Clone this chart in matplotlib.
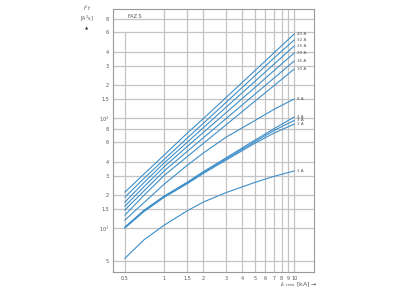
import numpy as np
import matplotlib
matplotlib.use("Agg")
import matplotlib.pyplot as plt

# prospective current [kA]
current = [0.5, 0.7, 1, 1.5, 2, 3, 5, 7, 10]

# let-through energy I2t [A2s] per rated current
curves = {
    "40 A": [21.2, 30.9, 46, 72.5, 98.6, 154, 270, 392, 580],
    "32 A": [19.1, 28.2, 42, 65.4, 89.4, 139, 243, 351, 512],
    "25 A": [17.2, 25.9, 39, 60, 81.5, 125.5, 216, 309, 452],
    "20 A": [15.8, 23.7, 36, 54.8, 73.8, 112, 190, 270, 390],
    "16 A": [14.6, 21.7, 33, 49.5, 66, 99, 165, 231, 330],
    "10 A": [13.1, 19.8, 30, 44.4, 58.7, 86.9, 142.5, 197, 279],
    "8 A": [11.8, 17, 25, 37, 48, 67, 95, 120, 149],
    "4 A": [10.2, 14.5, 19.5, 26, 32.5, 43.5, 63, 80, 102],
    "3 A": [10.1, 14.3, 19.2, 25.6, 32, 42.5, 61, 77, 95],
    "2 A": [10.0, 14.1, 19.0, 25.2, 31.3, 41.5, 59, 73, 88],
    "1 A": [5.3, 7.8, 10.6, 14.3, 17.2, 21, 26, 29.5, 33],
}

x_ticks = [0.5, 1, 1.5, 2, 3, 4, 5, 6, 7, 8, 9, 10]
x_labels = ["0.5", "1", "1.5", "2", "3", "4", "5", "6", "7", "8", "9", "10"]
y_ticks = [5, 10, 15, 20, 30, 40, 60, 80, 100, 150, 200, 300, 400, 600, 800]
y_labels = ["5", "10$^1$", "1.5", "2", "3", "4", "6", "8",
            "10$^2$", "1.5", "2", "3", "4", "6", "8"]

line_color = "#3d8ec9"
grid_color = "#c4c4c4"
text_color = "#555555"

fig = plt.figure(figsize=(4, 3), dpi=100)
ax = fig.add_axes([0.2825, 0.0933, 0.5025, 0.8767])
ax.set_xscale("log")
ax.set_yscale("log")
ax.set_xlim(0.405, 14.2)
ax.set_ylim(3.98, 980)

# grid drawn by hand so the 0.5 line stops below the FAZ S box
for yt in y_ticks:
    ax.axhline(yt, color=grid_color, lw=0.9, zorder=0)
for xt in x_ticks:
    if xt == 0.5:
        top = np.log10(600 / 3.98) / np.log10(980 / 3.98)
        ax.axvline(xt, ymax=top, color=grid_color, lw=0.9, zorder=0)
    else:
        ax.axvline(xt, color=grid_color, lw=0.9, zorder=0)

for name, vals in curves.items():
    ax.plot(current, vals, color=line_color, lw=0.8, zorder=2)
    ax.text(10.6, vals[-1], name, fontsize=3, color=text_color,
            va="center", ha="left")

ax.set_xticks(x_ticks)
ax.set_xticklabels(x_labels)
ax.set_yticks(y_ticks)
ax.set_yticklabels(y_labels)
ax.minorticks_off()
ax.tick_params(length=0, labelsize=3.5, colors=text_color, pad=3)
for s in ax.spines.values():
    s.set_color("#999999")
    s.set_linewidth(0.8)

ax.text(0.6, 830, "FAZ S", fontsize=3.5, color=text_color, ha="center", va="center")

fig.text(0.2175, 0.955, "$I^2t$\n[A$^2$s]", fontsize=3.5, color=text_color,
         ha="center", va="center", linespacing=1.1)
fig.text(0.2175, 0.905, "\u25b2", fontsize=3, color="#333333", ha="center", va="center")
fig.text(0.70, 0.05, "$I_{\\mathrm{c\\ rms}}$ [kA] \u2192", fontsize=4.5,
         color=text_color, ha="left", va="center")

fig.savefig("out.png", dpi=100)
